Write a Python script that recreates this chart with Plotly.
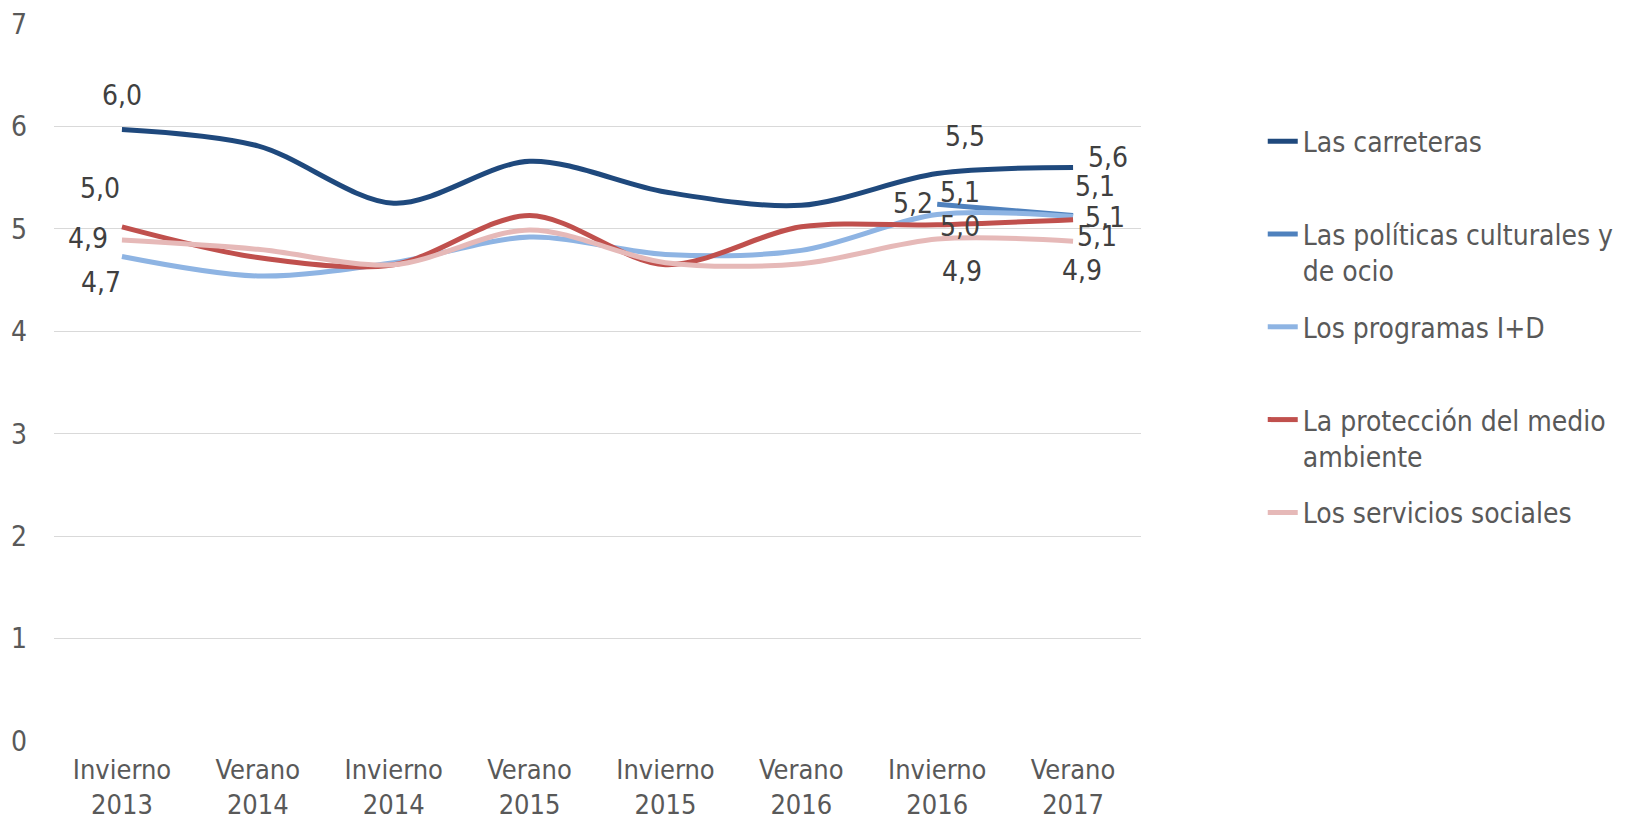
import plotly.graph_objects as go

categorias = ["Invierno<br>2013", "Verano<br>2014", "Invierno<br>2014", "Verano<br>2015",
              "Invierno<br>2015", "Verano<br>2016", "Invierno<br>2016", "Verano<br>2017"]

carreteras = [5.97, 5.81, 5.25, 5.66, 5.36, 5.23, 5.54, 5.60]
politicas = [None, None, None, None, None, None, 5.24, 5.13]
programas = [4.73, 4.54, 4.67, 4.92, 4.75, 4.79, 5.14, 5.12]
medio = [5.02, 4.72, 4.65, 5.13, 4.65, 5.02, 5.04, 5.09]
servicios = [4.89, 4.80, 4.65, 4.99, 4.67, 4.66, 4.90, 4.88]

nombres = ["Las carreteras", "Las políticas culturales y<br>de ocio", "Los programas I+D",
           "La protección del medio<br>ambiente", "Los servicios sociales"]
colores = ["#1F497D", "#4F81BD", "#8EB4E3", "#C0504D", "#E6B9B8"]
series = [carreteras, politicas, programas, medio, servicios]

# data-label offsets (px) per series: {index: (dx, dy_down)}
etiquetas = [
    {0: (0, -34), 6: (28, -37), 7: (35, -10)},
    {6: (-24, -1), 7: (22, -29)},
    {0: (-21, 26), 6: (23, -22), 7: (32, 1)},
    {0: (-22, -38), 6: (23, 2), 7: (24, 17)},
    {0: (-34, -2), 6: (25, 32), 7: (9, 29)},
]

FONT = "DejaVu Sans Condensed, DejaVu Sans, sans-serif"
fig = go.Figure()
for i, (nm, col, ys) in enumerate(zip(nombres, colores, series)):
    label = nm if "<br>" in nm else nm + "<br> "
    fig.add_trace(go.Scatter(
        x=categorias, y=ys, mode="lines", name=label,
        line=dict(color=col, width=5, shape="spline", smoothing=0.9),
        legendgroup=str(i), connectgaps=False,
    ))
    for idx, (dx, dy) in etiquetas[i].items():
        v = ys[idx]
        fig.add_annotation(
            x=categorias[idx], y=v, text=f"{v:.1f}".replace(".", ","),
            showarrow=False, xshift=dx, yshift=-dy,
            font=dict(family=FONT, size=28, color="#404040"),
        )

fig.update_layout(
    width=1631, height=824,
    margin=dict(l=54, r=490, t=24, b=83, autoexpand=False),
    paper_bgcolor="white", plot_bgcolor="white",
    font=dict(family=FONT, size=28, color="#595959"),
    showlegend=True,
    legend=dict(
        x=1.112, xanchor="left", y=0.871, yanchor="top",
        font=dict(family=FONT, size=28, color="#595959"),
        traceorder="grouped", tracegroupgap=17, valign="top",
        bgcolor="rgba(0,0,0,0)",
    ),
    xaxis=dict(
        type="category", range=[-0.5, 7.5], showgrid=False, zeroline=False,
        showline=False, ticks="", automargin=False, ticklabelstandoff=10,
        tickfont=dict(size=27, color="#595959"),
    ),
    yaxis=dict(
        range=[0, 7], dtick=1, showgrid=True, gridcolor="#D9D9D9", gridwidth=1,
        zeroline=False, showline=False, ticks="", automargin=False,
        tickfont=dict(size=28, color="#595959"), ticklabelstandoff=26,
    ),
)

fig.write_html("out.html", config={"displayModeBar": False},
               post_script="document.body.style.margin='0';document.body.style.overflow='hidden';")
